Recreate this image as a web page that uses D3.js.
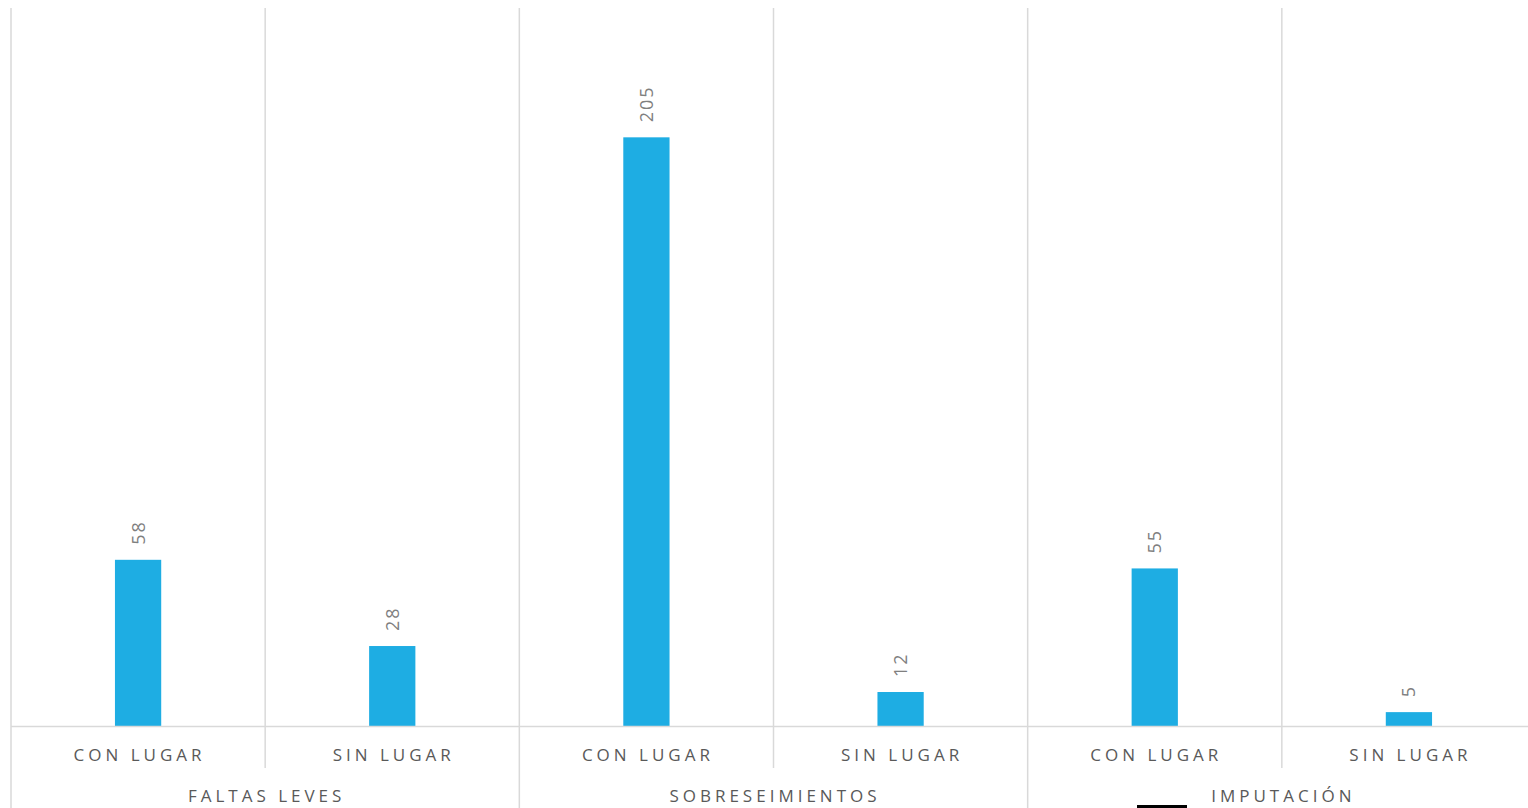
<!DOCTYPE html>
<html><head><meta charset="utf-8">
<script src="https://cdn.jsdelivr.net/npm/d3@7"></script>
<style>body{margin:0;background:#fff;overflow:hidden}svg{display:block}</style>
</head><body>
<svg id="c" width="1528" height="808"></svg>
<script>
const groups = ["FALTAS LEVES", "SOBRESEIMIENTOS", "IMPUTACIÓN"];
const subcats = ["CON LUGAR", "SIN LUGAR"];
const values = [58, 28, 205, 12, 55, 5];
const yTicks = [0, 50, 100, 150, 200, 250];

(function () {
const svg = d3.select("#c");
const pLeft = 11, pRight = 1536, pTop = 8, pBase = 726.5;
const keys = values.map((v, i) => i);
const x = d3.scaleBand().domain(keys).range([pLeft, pRight]).paddingInner(0).paddingOuter(0);
const y = d3.scaleLinear().domain([0, d3.max(yTicks)]).range([pBase, pTop]);
const gx = d3.scaleBand().domain(groups).range([pLeft, pRight]);
const grid = "#d9d9d9";

const g = svg.append("g");
keys.forEach(i => {
  const xe = x(i);
  const isGroup = i % 2 === 0;
  g.append("line").attr("x1", xe).attr("x2", xe).attr("y1", pTop).attr("y2", isGroup ? 808 : 768)
    .attr("stroke", grid).attr("stroke-width", 1.5);
});
g.append("line").attr("x1", pRight).attr("x2", pRight).attr("y1", pTop).attr("y2", 808)
  .attr("stroke", grid).attr("stroke-width", 1.5);

const bw = x.bandwidth() * 0.182;
svg.append("g").selectAll("rect").data(values).join("rect")
  .attr("x", (d, i) => x(i) + x.bandwidth() / 2 - bw / 2)
  .attr("width", bw)
  .attr("y", d => y(d))
  .attr("height", d => pBase - y(d))
  .attr("fill", "#1eade3");

svg.append("line").attr("x1", pLeft).attr("x2", pRight).attr("y1", pBase).attr("y2", pBase)
  .attr("stroke", grid).attr("stroke-width", 1.5);

svg.append("g").selectAll("text").data(values).join("text")
  .attr("transform", (d, i) => `translate(${x(i) + x.bandwidth() / 2 + 6.5},${y(d) - 15}) rotate(-90)`)
  .attr("text-anchor", "start")
  .attr("font-family", "Open Sans, sans-serif").attr("font-size", 18)
  .attr("letter-spacing", "2px")
  .attr("fill", "#7f7f7f")
  .text(d => d);

svg.append("g").selectAll("text").data(keys).join("text")
  .attr("x", i => x(i) + x.bandwidth() / 2 + 1.5)
  .attr("y", 761)
  .attr("text-anchor", "middle")
  .attr("font-family", "Open Sans, sans-serif").attr("font-size", 17)
  .attr("letter-spacing", "4px")
  .attr("fill", "#595959")
  .text(i => subcats[i % 2]);

svg.append("g").selectAll("text").data(groups).join("text")
  .attr("x", d => gx(d) + gx.bandwidth() / 2 + 1.5)
  .attr("y", 802)
  .attr("text-anchor", "middle")
  .attr("font-family", "Open Sans, sans-serif").attr("font-size", 17)
  .attr("letter-spacing", "4px")
  .attr("fill", "#595959")
  .text(d => d);

svg.append("rect").attr("x", 1137).attr("y", 805).attr("width", 50).attr("height", 3).attr("fill", "#000");
})();
</script>
</body></html>
